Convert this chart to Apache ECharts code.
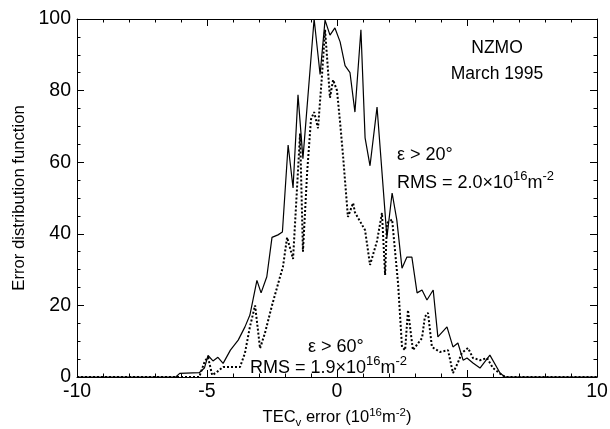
<!DOCTYPE html>
<html>
<head>
<meta charset="utf-8">
<script src="https://cdn.jsdelivr.net/npm/echarts@6/dist/echarts.min.js"></script>
<style>html,body{margin:0;padding:0;background:#fff}#c{width:610px;height:429px}</style>
</head>
<body>
<div id="c"></div>
<script>
// ε > 20° (solid)
var solidX = [-10,-6.2,-6.05,-5.3,-5.1,-4.96,-4.77,-4.58,-4.38,-4.1,-3.8,-3.54,-3.35,-3.08,-2.92,-2.7,-2.5,-2.27,-2.1,-1.88,-1.69,-1.5,-1.31,-0.88,-0.65,-0.46,-0.27,-0.08,0.12,0.31,0.5,0.69,0.92,1.08,1.27,1.54,1.92,2.12,2.3,2.5,2.69,2.88,3.08,3.27,3.46,3.7,3.88,4.23,4.46,4.65,4.85,5.0,5.23,5.5,5.88,6.27,6.46,10];
var solidY = [0,0,1,1.2,2.5,6,4.5,5.5,3.8,7.5,10.3,14,17.3,27,23.5,28,39,39.7,40.5,64.8,52.8,78.8,61,100,84.5,99.7,95.5,97.5,93.6,87,85,74,97,66.8,59,75.4,39,51.4,43.9,30.4,33.5,33.5,23.5,24.3,21.5,24.3,11.2,14,8.4,9.5,4.7,5.3,3.9,2.5,6.1,1.1,0,0];
// ε > 60° (dotted)
var dottedX = [-10,-5.3,-5.08,-4.96,-4.8,-4.6,-4.38,-3.73,-3.54,-3.35,-3.15,-2.96,-2.77,-2.5,-2.19,-2.08,-1.92,-1.69,-1.42,-1.31,-1.15,-1.0,-0.88,-0.73,-0.58,-0.46,-0.27,-0.15,0,0.12,0.23,0.42,0.62,0.69,1.08,1.27,1.54,1.73,1.85,1.92,2.12,2.35,2.5,2.62,2.73,2.92,3.27,3.38,3.5,3.65,3.96,4.27,4.46,4.65,4.8,5.04,5.23,5.5,5.77,6.0,6.35,6.5,10];
var dottedY = [0,0,4.5,5.5,0.5,1.5,2.8,2.8,6.7,14,20,8,12.3,20,28,30.7,39,33,68,35,57,72,74,69.5,84,97,78,83,80,71,62,44.7,48.6,46,41,31.3,38,45.8,28.5,43,44,26,8.4,7.5,18.7,7.5,10.9,16.8,17.9,8.4,7,7.5,1.1,4,6.7,8.1,5.3,4.7,5.3,2.5,0.5,0,0];

function pairs(xs, ys){ return xs.map(function(x,i){ return [x, ys[i]]; }); }

var FONT = 'Liberation Sans, Arial, Helvetica, sans-serif';
var chart = echarts.init(document.getElementById('c'), null, {renderer:'canvas'});
var tickCommon = {inside:true, length:7, lineStyle:{color:'#000', width:1}};
var minorCommon = {show:true, length:3.5, lineStyle:{color:'#000', width:1}};
var supRich = {
  n:{fontSize:18, fontFamily:FONT, color:'#000', lineHeight:22, verticalAlign:'bottom'},
  s:{fontSize:13, fontFamily:FONT, color:'#000', lineHeight:22, verticalAlign:'top'}
};
chart.setOption({
  animation:false,
  backgroundColor:'#fff',
  grid:{left:77, right:13, top:19, bottom:52, containLabel:false, outerBoundsMode:'none'},
  xAxis:[{
    type:'value', min:-10, max:10, interval:5, position:'bottom',
    axisLine:{onZero:false, lineStyle:{color:'#000', width:1}},
    axisTick:tickCommon,
    minorTick:Object.assign({splitNumber:5}, minorCommon),
    splitLine:{show:false},
    axisLabel:{color:'#000', fontSize:19.5, fontFamily:FONT, margin:5},
    name:'{n|TEC}{sub|v}{n| error (10}{s|16}{n|m}{s|-2}{n|)}',
    nameLocation:'middle', nameGap:27,
    nameTextStyle:{rich:{
      n:{fontSize:16.5, fontFamily:FONT, color:'#000', lineHeight:22, verticalAlign:'middle'},
      sub:{fontSize:11.5, fontFamily:FONT, color:'#000', lineHeight:22, verticalAlign:'bottom'},
      s:{fontSize:11.5, fontFamily:FONT, color:'#000', lineHeight:22, verticalAlign:'top'}
    }}
  },{
    type:'value', min:-10, max:10, interval:5, position:'top',
    axisLine:{onZero:false, lineStyle:{color:'#000', width:1}},
    axisTick:tickCommon,
    minorTick:Object.assign({splitNumber:5}, minorCommon),
    splitLine:{show:false}, axisLabel:{show:false}
  }],
  yAxis:[{
    type:'value', min:0, max:100, interval:20, position:'left',
    axisLine:{onZero:false, lineStyle:{color:'#000', width:1}},
    axisTick:tickCommon,
    minorTick:Object.assign({splitNumber:4}, minorCommon),
    splitLine:{show:false},
    axisLabel:{color:'#000', fontSize:19.5, fontFamily:FONT, margin:6},
    name:'Error distribution function', nameLocation:'middle', nameGap:48,
    nameTextStyle:{color:'#000', fontSize:16.7, fontFamily:FONT}
  },{
    type:'value', min:0, max:100, interval:20, position:'right',
    axisLine:{onZero:false, lineStyle:{color:'#000', width:1}},
    axisTick:tickCommon,
    minorTick:Object.assign({splitNumber:4}, minorCommon),
    splitLine:{show:false}, axisLabel:{show:false}
  }],
  series:[{
    type:'line', data:pairs(solidX, solidY), showSymbol:false, symbol:'none',
    lineStyle:{color:'#000', width:1.2, type:'solid'}, clip:false
  },{
    type:'line', data:pairs(dottedX, dottedY), showSymbol:false, symbol:'none',
    lineStyle:{color:'#000', width:2, type:[2,2]}, clip:false
  }],
  graphic:[
    {type:'text', style:{text:'NZMO', x:497, y:48, align:'center', verticalAlign:'middle', font:'17.5px '+FONT, fill:'#000'}},
    {type:'text', style:{text:'March 1995', x:497, y:74, align:'center', verticalAlign:'middle', font:'17.5px '+FONT, fill:'#000'}},
    {type:'text', style:{text:'ε > 20°', x:397, y:155, align:'left', verticalAlign:'middle', font:'18px '+FONT, fill:'#000'}},
    {type:'text', style:{text:'{n|RMS = 2.0×10}{s|16}{n|m}{s|-2}', x:397, y:181, align:'left', verticalAlign:'middle', rich:supRich}},
    {type:'text', style:{text:'ε > 60°', x:308, y:347, align:'left', verticalAlign:'middle', font:'18px '+FONT, fill:'#000'}},
    {type:'text', style:{text:'{n|RMS = 1.9×10}{s|16}{n|m}{s|-2}', x:250, y:366, align:'left', verticalAlign:'middle', rich:supRich}}
  ]
});
</script>
</body>
</html>
